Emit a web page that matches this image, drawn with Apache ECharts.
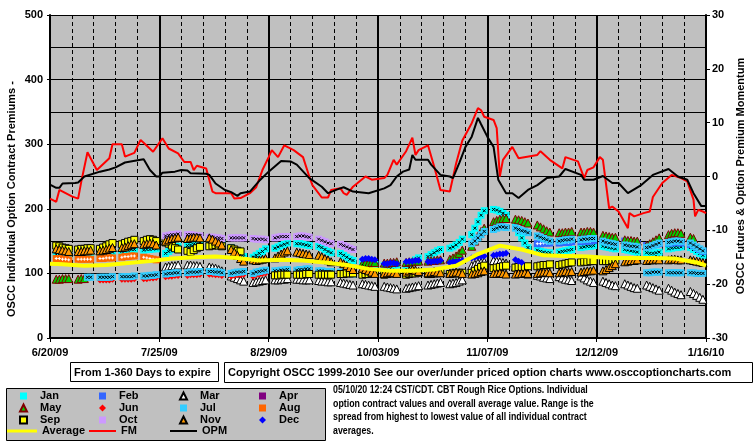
<!DOCTYPE html>
<html>
<head>
<meta charset="utf-8">
<script src="https://cdn.jsdelivr.net/npm/echarts@6.0.0/dist/echarts.min.js"></script>
<style>
  html, body { margin: 0; padding: 0; background: #fff; }
  #chart { width: 755px; height: 446px; }
</style>
</head>
<body>
<div id="chart"></div>
<script>
// x = days since 6/20/09, one label every 35 days
const xLabels = ['6/20/09', '7/25/09', '8/29/09', '10/03/09', '11/07/09', '12/12/09', '1/16/10'];

// contract premiums, one row of 5 trading days (Mon..Fri) per week, 30 weeks
const janWeeks = [
  [129,128,128,128,129],[129,130,130,130,131],[131,131,132,132,133],[134,135,136,137,137],[136,137,137,138,138],
  [131,134,137,140,142],[143,144,145,146,147],[144,145,146,146,146],[140,136,132,128,126],[125,128,131,134,138],
  [139,141,143,145,147],[146,146,145,144,143],[142,140,137,134,132],[131,128,125,122,120],[118,116,115,114,114],
  [112,111,111,112,113],[112,115,118,121,124],[126,129,132,135,137],[139,141,144,148,153],[160,170,180,190,197],
  [199,198,196,193,190],[172,163,155,147,140],[136,134,133,132,132],[133,134,135,136,137],[140,141,142,142,143],
  [142,141,140,139,138],[137,136,135,134,133],[132,131,131,132,133],[138,139,140,140,141],[140,137,134,131,128]
];
const febWeeks = [
  null,null,null,null,null, null,null,null,null,null, null,null,null,null,null,
  null,null,null,null,null,
  null,null,[146,146,147,147,147],[147,148,148,148,149],[149,150,150,150,151],
  [152,151,150,149,148],[150,149,148,147,146],[143,143,144,145,146],[147,147,148,148,147],[145,143,140,137,134]
];
const marWeeks = [
  null,null,null,null,null,
  [110,111,112,112,113],[113,113,112,112,111],[110,109,108,106,104],[96,94,92,90,88],[86,87,88,89,90],
  [90,90,91,91,92],[91,91,90,90,90],[89,88,88,87,87],[86,85,84,83,82],[84,83,82,81,80],
  [80,79,78,77,76],[77,78,79,80,81],[82,83,84,85,86],[84,85,86,88,90],[112,114,116,117,118],
  [120,119,118,117,116],[110,107,104,101,99],[97,96,94,93,92],[95,93,91,90,89],[96,93,90,88,86],
  [88,86,84,82,81],[84,82,80,78,77],[82,80,78,76,74],[77,74,71,69,67],[72,69,66,63,60]
];
const mayWeeks = [
  [91,91,92,92,92],[91,92,92,null,null],null,null,null,
  null,null,null,null,null,
  null,null,null,null,[115,116,116,117,117],
  [116,116,117,117,118],[117,118,118,119,119],[119,120,120,121,121],[122,124,127,131,136],[142,150,158,165,170],
  [180,182,184,185,185],[184,183,182,180,178],[175,172,169,166,164],[163,163,164,164,165],[164,164,165,165,164],
  [159,158,157,156,156],[152,151,151,150,150],[143,146,149,152,155],[160,162,163,163,162],[156,154,null,null,null]
];
const junWeeks = [
  null,null,[89,89,89,89,90],[90,90,90,90,91],[91,91,92,92,93],
  [94,95,95,96,96],[96,97,97,97,98],[98,98,97,97,96],[95,96,97,97,98],[95,97,98,99,100],
  [99,99,100,100,101],[100,101,101,102,102],[99,99,98,98,98],null,null,
  null,null,null,null,null, null,null,null,null,null, null,null,null,null,null
];
const julLowWeeks = [
  null,[null,null,null,94,94],[94,94,94,94,95],[95,95,95,95,96],[96,96,97,97,98],
  [99,100,100,101,101],[101,102,102,102,103],[103,103,102,102,101],[100,101,102,102,103],[100,102,103,104,105],
  [104,104,105,105,106],[105,106,106,107,107],[104,104,103,103,103],[102,101,100,100,99],null,
  null,null,null,null,null, null,null,null,null,null,
  null,null,[101,101,102,102,102],[101,101,101,101,101],[101,101,100,100,100]
];
const julHighWeeks = [
  null,null,null,null,null, null,null,null,null,null, null,null,null,null,null,
  null,null,null,null,[146,150,155,160,165],
  [168,170,172,172,171],[170,168,166,165,163],[158,156,154,152,150],[150,151,152,152,153],[152,153,153,154,154],
  [150,148,147,146,145],[144,143,142,142,141],[140,141,143,145,147],[148,149,150,150,149],[147,144,141,138,135]
];
const augWeeks = [
  [123,123,122,122,121],[122,122,122,122,122],[123,123,124,124,124],[125,126,126,127,127],[125,124,123,122,121],
  null,null,null,null,null, null,null,null,null,null, null,null,null,null,null,
  null,null,null,null,null, null,null,null,null,null
];
const sepWeeks = [
  [143,142,140,139,138],[137,138,138,139,139],[138,140,142,145,147],[145,147,149,150,152],[150,152,153,152,150],
  [148,146,143,139,137],[135,133,136,139,141],[142,143,144,143,142],[139,137,135,134,null],null,
  [97,97,98,98,98],[98,98,98,99,99],[98,98,98,98,98],[99,99,100,100,100],[98,99,99,100,100],
  [98,99,100,100,100],[98,99,100,100,101],[99,99,100,100,101],[99,100,100,101,101],[101,104,107,110,112],
  [108,109,110,111,112],[109,110,110,110,111],[111,112,113,113,114],[113,114,115,116,117],[117,118,118,119,119],
  [119,119,119,120,120],null,null,null,null
];
const octWeeks = [
  null,null,null,null,null,
  [158,159,160,160,161],[160,160,159,158,158],[156,156,155,155,154],[155,155,155,155,155],[154,153,153,153,152],
  [155,156,157,157,157],[157,158,158,157,156],[153,151,149,147,146],[145,143,141,139,137],null,
  null,null,null,null,null, null,null,null,null,null, null,null,null,null,null
];
const novWeeks = [
  [138,137,136,135,134],[134,134,135,135,136],[135,136,137,139,140],[140,141,143,145,146],[145,146,147,146,144],
  [150,152,154,155,156],[154,155,156,156,155],[155,153,150,147,144],[137,133,128,123,119],[121,120,121,122,123],
  [124,127,130,133,135],[133,132,131,130,129],[128,126,123,121,118],[118,115,112,109,106],[108,106,104,102,100],
  [100,101,102,101,100],[102,104,106,105,103],[101,102,103,102,101],[100,101,102,101,100],[99,100,101,103,104],
  [100,100,101,100,99],[99,100,100,101,100],[100,101,102,102,101],[101,102,103,102,103],[102,103,104,104,105],
  [104,106,109,112,115],[118,119,120,120,121],[120,121,121,122,121],[121,122,122,121,121],[121,120,119,118,117]
];
const decWeeks = [
  null,null,null,null,null, null,null,null,null,null,
  null,null,null,null,[122,123,123,122,121],
  [115,115,116,116,115],[118,119,119,120,120],[118,118,119,119,120],[117,118,118,119,120],[124,125,126,126,127],
  [128,129,130,130,131],[121,119,117,null,null],null,null,null,
  null,null,null,null,null
];

// overall average (left axis), [day, value]
const avgLine = [
  [0,115],[4,114],[11,112],[18,113],[25,116],[32,119],[39,123],[46,125],[53,126],[60,124],
  [67,120],[74,121],[81,120],[88,117],[95,113],[102,107],[109,104],[116,104],[123,106],[130,112],
  [137,130],[144,143],[151,137],[158,128],[165,127],[172,126],[179,124],[186,124],[193,124],
  [200,123],[207,117],[210,112]
];

// FM and OPM momentum (right axis), [day, value]
const fmLine = [
  [0,-4.1],[2,-4.7],[3,-2.5],[5,-3.1],[7,-3.7],[9,-4.1],[10,-1],[12,4.5],[15,1.2],[19,3.4],
  [20,6],[23,6],[24,3.7],[27,4.4],[29,6.8],[31,5.7],[33,4.6],[36,7.1],[38,5.2],[41,4.3],
  [43,2.7],[45,2.7],[46,1.2],[47,2],[50,1.5],[52,-2.8],[53,-3.1],[58,-3.1],[59,-4.1],[61,-4],
  [64,-3.1],[66,-2],[68,1.2],[70,3.6],[71,4.9],[73,3.6],[75,5.8],[78,4.9],[81,3.6],[83,0],
  [84,-1.6],[87,-3.9],[89,-3.9],[90,-2.5],[93,-2.2],[94,-3.1],[95,-3.4],[97,-1.9],[101,0],[103,-0.6],
  [107,-0.3],[108,0.3],[110,3.1],[111,2.2],[114,4.7],[116,7.2],[117,4],[118,4.9],[121,5.8],[123,1.8],
  [125,-2.5],[128,-2.8],[130,2.4],[132,6.7],[135,9.9],[137,12.7],[138,12.3],[139,11.1],[142,10.5],[143,9],
  [144,0],[145,3.1],[148,5.5],[150,3.4],[156,4],[157,4.7],[160,3.1],[164,1.5],[165,3.6],[169,2.8],
  [171,-0.3],[172,1.2],[174,1.7],[176,3.6],[177,3.1],[179,-5.9],[180,-5.6],[182,-6.5],[185,-9.6],[185.5,-6.8],
  [187,-7.4],[190,-6.8],[192,-6.5],[193,-3.8],[196,-1.2],[199,0.3],[202,-0.3],[204,-0.9],[206,-4.3],[206.5,-7.4],
  [207.5,-6.2],[209,-6.5],[210,-6.8]
];
const opmLine = [
  [0,-1.5],[2,-2.1],[3,-2.1],[4,-1.3],[8,-1.2],[9,-1.1],[11,0],[16,0.9],[19,1.3],[21,1.7],
  [24,2.6],[29,3.1],[30,3.2],[32,1.2],[34,0],[35,0],[36,0.7],[40,0.9],[42,1.2],[44,1.1],
  [45,0.6],[50,0.5],[51,0.3],[53,-1.3],[56,-2.5],[58,-2.9],[60,-3.6],[61,-3.1],[64,-2.8],[67,-0.8],
  [70,0.9],[74,2.9],[77,2.8],[79,2.2],[83,-0.3],[87,-1.9],[89,-3.1],[92,-2.4],[94,-2],[97,-2.8],
  [102,-3.1],[107,-2.2],[109,-1.6],[111,0],[113,0.9],[115,1.3],[116,4],[117,3.1],[121,3.1],[122,2.2],
  [125,0.3],[128,0],[129,-0.3],[131,2.5],[133,5.5],[135,7.4],[137,10.9],[138,9.7],[140,7.4],[142,5.5],
  [143.5,-0.6],[146,-3.1],[148,-3.1],[150,-4],[153,-2.5],[156,-1.6],[159,-0.3],[163,0],[165,1.4],[170,0.3],
  [171,-0.6],[174,-0.6],[177,0.1],[180,-1.2],[182,-1.2],[185,-3.1],[189,-1.7],[193,0.3],[198,1.4],[201,0],
  [204,-0.6],[206,-3.1],[208.5,-5.5],[210,-5.5]
];

const noteLines = [
  '05/10/20 12:24 CST/CDT. CBT Rough Rice Options. Individual',
  'option contract values and overall average value. Range is the',
  'spread from highest to lowest value of all individual contract',
  'averages.'
];

const FONT = '"Liberation Sans", Arial, sans-serif';
const CROSS = 'path://M0,0L8,8M8,0L0,8';
const PLUS = 'path://M4,0L4,8M0,4L8,4';

function weekPoints(weeks) {
  const pts = [];
  weeks.forEach(function (wk, w) {
    if (!wk) return;
    wk.forEach(function (v, i) {
      if (v != null) pts.push([2 + 7 * w + i, v]);
    });
  });
  return pts;
}

function marks(name, weeks, color, symbol, size, border) {
  return {
    name: name,
    type: 'scatter',
    data: weeks ? weekPoints(weeks) : [],
    symbol: symbol,
    symbolSize: size,
    itemStyle: { color: color, borderColor: border || color, borderWidth: border ? 1 : 0, opacity: 1 },
    emphasis: { disabled: true },
    z: 2
  };
}

// small x / + drawn in the middle of each square, like the original markers
function glyphs(weeks, shape, color) {
  return {
    type: 'scatter',
    data: weekPoints(weeks),
    symbol: shape,
    symbolSize: 3,
    silent: true,
    itemStyle: { color: 'rgba(0,0,0,0)', borderColor: color, borderWidth: 1, opacity: 1 },
    emphasis: { disabled: true },
    z: 2
  };
}

function trend(name, pts, color, width, axis) {
  return {
    name: name,
    type: 'line',
    yAxisIndex: axis,
    data: pts,
    symbol: 'none',
    lineStyle: { color: color, width: width },
    itemStyle: { color: color },
    emphasis: { disabled: true },
    z: 5
  };
}

const legendText = {
  color: '#000', fontWeight: 'bold', fontSize: 11, fontFamily: FONT,
  lineHeight: 11, padding: [0, 0, 0, 8]
};
function monthLegend(left, names) {
  return {
    orient: 'vertical', left: left, top: 390.5, padding: 0,
    itemWidth: 7, itemHeight: 7, itemGap: 1,
    textStyle: legendText, selectedMode: false, data: names
  };
}
function lineLegend(left, width, name, thick) {
  return {
    orient: 'horizontal', left: left, top: 425.5, padding: 0,
    itemWidth: width, itemHeight: thick,
    textStyle: Object.assign({}, legendText, { padding: [0, 0, 0, 0] }),
    selectedMode: false, data: [{ name: name, icon: 'rect' }]
  };
}

const chart = echarts.init(document.getElementById('chart'));

const option = {
  animation: false,
  backgroundColor: '#fff',
  textStyle: { fontFamily: FONT },
  grid: {
    left: 50, right: 49, top: 15, bottom: 108,
    show: true, backgroundColor: '#c0c0c0', borderWidth: 0
  },
  xAxis: {
    type: 'value', min: 0, max: 210, interval: 35,
    axisLine: { show: true, onZero: false, lineStyle: { color: '#000', width: 2 } },
    axisTick: { show: true, length: 4, lineStyle: { color: '#000', width: 1 } },
    axisLabel: {
      margin: 9, color: '#000', fontWeight: 'bold', fontSize: 11,
      formatter: function (v) { return xLabels[Math.round(v / 35)] || ''; }
    },
    splitLine: { show: true, lineStyle: { color: '#000', width: 2 } },
    minorTick: { show: false, splitNumber: 5 },
    minorSplitLine: { show: true, lineStyle: { color: '#000', width: 1, type: [4, 3] } }
  },
  yAxis: [
    {
      type: 'value', min: 0, max: 500, interval: 100, position: 'left',
      axisLine: { show: true, onZero: false, lineStyle: { color: '#000', width: 2 } },
      axisTick: { show: true, length: 3, lineStyle: { color: '#000' } },
      axisLabel: { margin: 7, color: '#000', fontWeight: 'bold', fontSize: 11 },
      splitLine: { show: true, lineStyle: { color: '#000', width: 1 } },
      minorTick: { show: false, splitNumber: 2 },
      minorSplitLine: { show: true, lineStyle: { color: '#000', width: 1 } }
    },
    {
      type: 'value', min: -30, max: 30, interval: 10, position: 'right',
      axisLine: { show: true, onZero: false, lineStyle: { color: '#000', width: 2 } },
      axisTick: { show: true, length: 4, lineStyle: { color: '#000' } },
      axisLabel: { margin: 6, color: '#000', fontWeight: 'bold', fontSize: 11 },
      splitLine: { show: false }
    }
  ],
  legend: [
    monthLegend(19, ['Jan', 'May', 'Sep']),
    monthLegend(99, ['Feb', 'Jun', 'Oct']),
    monthLegend(179, ['Mar', 'Jul', 'Nov']),
    monthLegend(259, ['Apr', 'Aug', 'Dec']),
    lineLegend(7, 30, 'Average', 3),
    lineLegend(89, 27, 'FM', 2),
    lineLegend(170, 27, 'OPM', 2)
  ],
  series: [
    marks('Jan', janWeeks, '#00ffff', 'rect', 7),
    glyphs(janWeeks, CROSS, '#000'),
    marks('Feb', febWeeks, '#3366ff', 'rect', 7),
    glyphs(febWeeks, PLUS, '#fff'),
    marks('Mar', marWeeks, '#ffffff', 'triangle', 8, '#000'),
    marks('Apr', null, '#800080', 'rect', 7),
    marks('May', mayWeeks, '#00cc00', 'triangle', 8, '#800000'),
    marks('Jun', junWeeks, '#ff0000', 'diamond', 6),
    marks('Jul', julLowWeeks, '#33ccff', 'rect', 7),
    glyphs(julLowWeeks, CROSS, '#000'),
    marks('Jul', julHighWeeks, '#33ccff', 'rect', 7),
    glyphs(julHighWeeks, CROSS, '#000'),
    marks('Aug', augWeeks, '#ff6600', 'rect', 7),
    glyphs(augWeeks, PLUS, '#fff'),
    marks('Sep', sepWeeks, '#ffff00', 'rect', 7, '#000'),
    marks('Oct', octWeeks, '#cc99ff', 'rect', 7),
    glyphs(octWeeks, CROSS, '#000'),
    marks('Nov', novWeeks, '#ff9900', 'triangle', 8, '#000'),
    marks('Dec', decWeeks, '#0000ff', 'diamond', 7),
    trend('Average', avgLine, '#ffff00', 4, 0),
    trend('FM', fmLine, '#ff0000', 2, 1),
    trend('OPM', opmLine, '#000000', 2, 1)
  ],
  graphic: [
    {
      type: 'text', x: 12, y: 199, rotation: Math.PI / 2,
      style: { text: 'OSCC Individual Option Contract Premiums -', font: 'bold 11px ' + FONT, fill: '#000', align: 'center', verticalAlign: 'middle' }
    },
    {
      type: 'text', x: 741, y: 176, rotation: Math.PI / 2,
      style: { text: 'OSCC Futures & Option Premium Momentum', font: 'bold 11px ' + FONT, fill: '#000', align: 'center', verticalAlign: 'middle' }
    },
    {
      type: 'rect', shape: { x: 70.5, y: 362.5, width: 148, height: 19 },
      style: { fill: '#fff', stroke: '#000', lineWidth: 1 }
    },
    {
      type: 'text', x: 74, y: 372.5,
      style: { text: 'From 1-360 Days to expire', font: 'bold 11px ' + FONT, fill: '#000', align: 'left', verticalAlign: 'middle' }
    },
    {
      type: 'rect', shape: { x: 224.5, y: 362.5, width: 528, height: 20 },
      style: { fill: '#fff', stroke: '#000', lineWidth: 1 }
    },
    {
      type: 'text', x: 228, y: 372.5,
      style: { text: 'Copyright OSCC 1999-2010 See our over/under priced option charts www.osccoptioncharts.com', font: 'bold 11px ' + FONT, fill: '#000', align: 'left', verticalAlign: 'middle' }
    },
    {
      type: 'rect', z: -1, shape: { x: 6.5, y: 388.5, width: 319, height: 52 },
      style: { fill: '#c0c0c0', stroke: '#000', lineWidth: 1 }
    }
  ].concat(noteLines.map(function (t, i) {
    return {
      type: 'text', x: 333, y: 390 + i * 13.7, scaleX: 0.8,
      style: { text: t, font: 'bold 11px ' + FONT, fill: '#000', align: 'left', verticalAlign: 'middle' }
    };
  }))
};

chart.setOption(option);
</script>
</body>
</html>
